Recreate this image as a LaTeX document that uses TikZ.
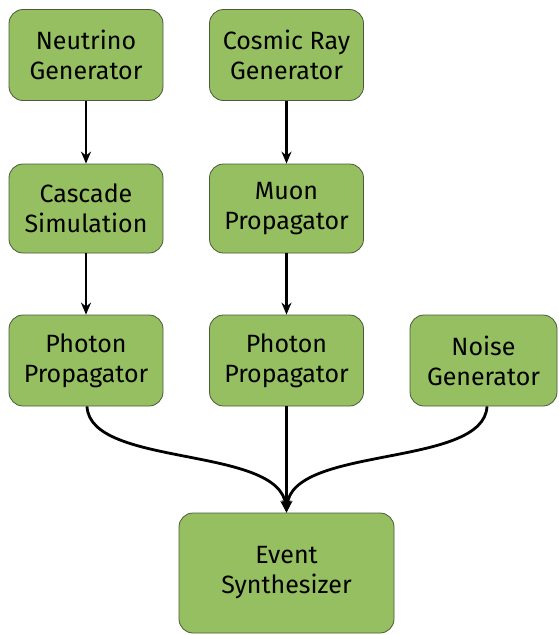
\documentclass[tikz,border=0pt]{standalone}
\usepackage{fontspec}
\setmainfont{Fira Sans}
\usetikzlibrary{arrows.meta}
\definecolor{boxgreen}{HTML}{95BF60}
\definecolor{boxedge}{HTML}{4A5A3A}
\tikzset{
  stage/.style={draw=boxedge, line width=0.8pt, fill=boxgreen, rounded corners=14pt,
    minimum width=154pt, minimum height=91pt, align=center, inner sep=0pt,
    font=\fontsize{25}{30}\selectfont},
  flow/.style={line width=2.8pt, -{Stealth[length=12pt,width=10pt]}}
}
\begin{document}
\begin{tikzpicture}[x=1pt,y=-1pt]
\useasboundingbox (0,0) rectangle (559,635);
\node[stage] (ng) at (86,55) {Neutrino\\Generator};
\node[stage] (cr) at (286.5,55) {Cosmic Ray\\Generator};
\node[stage, minimum height=89pt] (cs) at (86,208.5) {Cascade\\Simulation};
\node[stage, minimum height=89pt] (mp) at (286.5,208.5) {Muon\\Propagator};
\node[stage] (pp1) at (86,360.5) {Photon\\Propagator};
\node[stage] (pp2) at (286.5,360.5) {Photon\\Propagator};
\node[stage, minimum width=147pt] (ns) at (483.5,360.5) {Noise\\Generator};
\node[stage, minimum width=215pt, minimum height=120pt] (es) at (286.5,573) {Event\\Synthesizer};

\draw[flow] (ng) -- (cs);
\draw[flow] (cr) -- (mp);
\draw[flow] (cs) -- (pp1);
\draw[flow] (mp) -- (pp2);
\draw[flow] (pp2) -- (es);
\draw[flow] ([xshift=1pt]pp1.south) .. controls (90,468) and (280,445) .. (es.north);
\draw[flow] ([xshift=3.5pt]ns.south) .. controls (484,468) and (292,445) .. (es.north);
\end{tikzpicture}
\end{document}
